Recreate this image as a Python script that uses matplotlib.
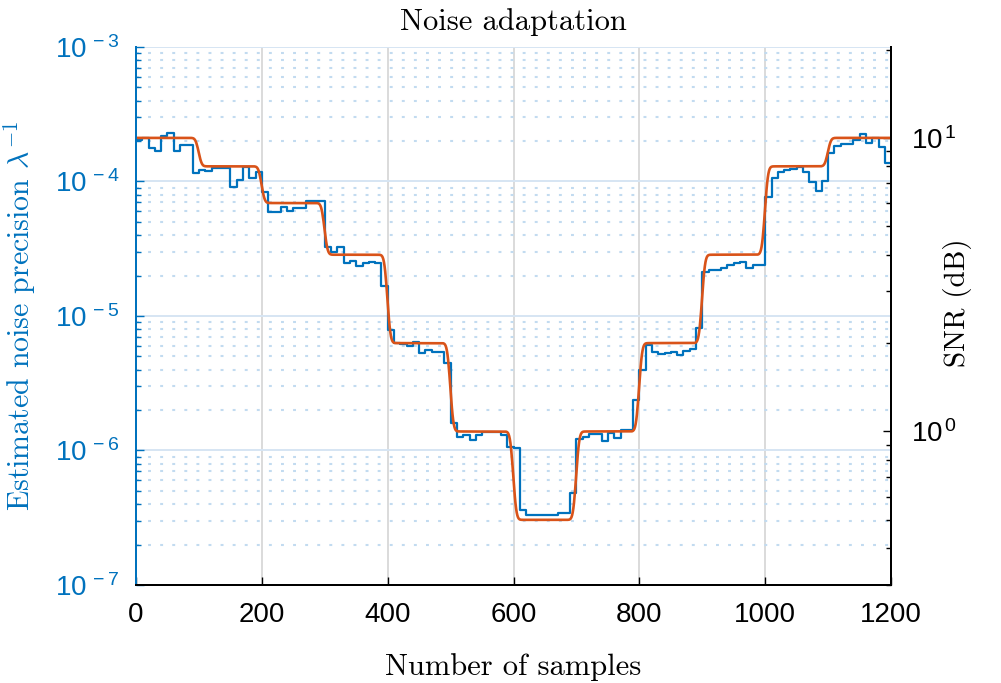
import numpy as np
import matplotlib
matplotlib.use("Agg")
import matplotlib.pyplot as plt
from matplotlib.ticker import FuncFormatter, LogLocator, NullFormatter

plt.rcParams['font.family'] = ['Liberation Sans', 'DejaVu Sans']
plt.rcParams['mathtext.fontset'] = 'cm'

# estimated noise precision, one value per block of 10 samples
block_start = np.arange(0, 1200, 10)
precision = [
    2.04e-4, 2.11e-4, 1.77e-4, 1.69e-4, 2.18e-4, 2.30e-4, 1.69e-4, 1.87e-4, 1.87e-4, 1.16e-4,
    1.22e-4, 1.20e-4, 1.26e-4, 1.26e-4, 1.26e-4, 9.1e-5, 1.03e-4, 1.28e-4, 1.06e-4, 1.18e-4,
    8.36e-5, 5.93e-5, 5.93e-5, 6.46e-5, 6.04e-5, 6.35e-5, 6.35e-5, 7.16e-5, 7.16e-5, 7.16e-5,
    3.26e-5, 2.99e-5, 3.26e-5, 2.48e-5, 2.56e-5, 2.35e-5, 2.48e-5, 2.52e-5, 2.48e-5, 1.67e-5,
    7.87e-6, 6.30e-6, 6.15e-6, 5.98e-6, 6.41e-6, 5.31e-6, 5.58e-6, 5.40e-6, 5.40e-6, 4.47e-6,
    1.60e-6, 1.26e-6, 1.30e-6, 1.20e-6, 1.30e-6, 1.37e-6, 1.37e-6, 1.37e-6, 1.30e-6, 1.06e-6,
    1.04e-6, 3.61e-7, 3.31e-7, 3.31e-7, 3.31e-7, 3.31e-7, 3.31e-7, 3.43e-7, 3.43e-7, 4.83e-7,
    1.22e-6, 1.26e-6, 1.33e-6, 1.33e-6, 1.18e-6, 1.35e-6, 1.24e-6, 1.42e-6, 1.42e-6, 2.37e-6,
    3.97e-6, 6.08e-6, 5.40e-6, 5.22e-6, 5.31e-6, 5.40e-6, 5.13e-6, 5.49e-6, 5.69e-6, 8.14e-6,
    2.12e-5, 2.20e-5, 2.20e-5, 2.28e-5, 2.39e-5, 2.48e-5, 2.52e-5, 2.28e-5, 2.39e-5, 2.39e-5,
    7.67e-5, 1.06e-4, 1.18e-4, 1.22e-4, 1.24e-4, 1.28e-4, 1.18e-4, 9.9e-5, 8.5e-5, 1.01e-4,
    1.63e-4, 1.84e-4, 1.90e-4, 1.90e-4, 2.04e-4, 2.25e-4, 1.93e-4, 2.11e-4, 1.81e-4, 1.37e-4,
]

# true SNR, one level per segment of 100 samples
segment_len = 100
snr_levels = [10, 8, 6, 4, 2, 1, 0.5, 1, 2, 4, 8, 10]

blue = '#0072BD'
red = '#D95319'

fig = plt.figure(figsize=(10.01, 6.83), dpi=100)
ax = fig.add_axes([0.1359, 0.1435, 0.7543, 0.7877])
ax2 = ax.twinx()

# blue staircase
xs = np.append(block_start, 1200)
ys = np.append(precision, precision[-1])
ax.step(xs, ys, where='post', color=blue, lw=1.6)

# red: segment levels, smoothed at the switches (done in log space)
n = np.arange(0, 1201)
step_log = np.log10(np.repeat(snr_levels, segment_len))
step_log = np.append(step_log, step_log[-1])
pad = 20
padded = np.concatenate([np.full(pad, step_log[0]), step_log, np.full(pad, step_log[-1])])
k = np.arange(-pad, pad + 1)
kern = np.exp(-0.5 * (k / 4.0) ** 2)
kern /= kern.sum()
smooth = np.convolve(padded, kern, mode='same')[pad:-pad]
ax2.plot(n, 10 ** smooth, color=red, lw=1.9)

# left axis
ax.set_yscale('log')
ax.set_ylim(1e-7, 1e-3)
ax.set_xlim(0, 1200)
ax.set_xticks(np.arange(0, 1201, 200))
ax.yaxis.set_major_locator(LogLocator(base=10, numticks=10))
ax.yaxis.set_minor_locator(LogLocator(base=10, subs=np.arange(2, 10), numticks=20))
ax.yaxis.set_minor_formatter(NullFormatter())
ax.yaxis.set_major_formatter(FuncFormatter(
    lambda v, p: r'$\mathregular{10^{\,%d}}$' % round(np.log10(v))))
ax.tick_params(axis='y', which='both', direction='in', colors=blue, labelsize=20, pad=12)
ax.tick_params(axis='y', which='major', length=6, width=1)
ax.tick_params(axis='y', which='minor', length=3.5, width=1)
ax.tick_params(axis='x', direction='in', length=6, width=1, labelsize=20, pad=12)

ax.set_axisbelow(True)
ax.xaxis.grid(True, color='#dadada', lw=1.4)
ax.yaxis.grid(True, which='major', color='#d6e5f3', lw=1.4)
ax.yaxis.grid(True, which='minor', color='#c2dbf0', lw=1.5, ls=(0, (1.4, 4.4)))

# right axis
ax2.set_yscale('log')
ax2.set_ylim(0.3, 20.4)
ax2.set_yticks([1, 10])
ax2.yaxis.set_minor_locator(LogLocator(base=10, subs=np.arange(2, 10), numticks=20))
ax2.yaxis.set_minor_formatter(NullFormatter())
ax2.yaxis.set_major_formatter(FuncFormatter(
    lambda v, p: r'$\mathregular{10^{\,%d}}$' % round(np.log10(v))))
ax2.tick_params(axis='y', which='both', direction='in', colors='black', labelsize=20, pad=14)
ax2.tick_params(axis='y', which='major', length=6, width=1)
ax2.tick_params(axis='y', which='minor', length=3.5, width=1)

for a in (ax, ax2):
    a.spines['top'].set_visible(False)
    a.spines['left'].set_color(blue)
    a.spines['right'].set_color('black')
    for s in a.spines.values():
        s.set_linewidth(1.4)

serif = 'cmr10'
ax.set_title('Noise adaptation', fontfamily=serif, fontsize=22, pad=12)
ax.set_xlabel('Number of samples', fontfamily=serif, fontsize=22, labelpad=18)
ax.set_ylabel(r'Estimated noise precision $\lambda^{-1}$', fontfamily=serif,
              fontsize=21.5, color=blue, labelpad=12)
ax2.set_ylabel('SNR (dB)', fontfamily=serif, fontsize=21)
ax2.yaxis.set_label_coords(1.069, 0.525)

fig.savefig('out.png', dpi=100)
